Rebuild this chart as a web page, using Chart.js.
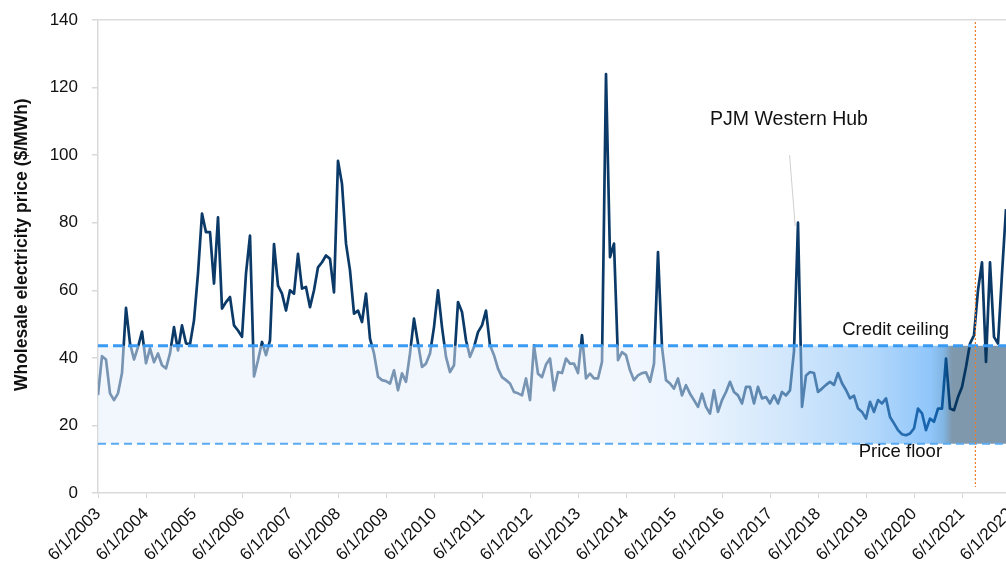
<!DOCTYPE html>
<html><head><meta charset="utf-8">
<script src="https://cdn.jsdelivr.net/npm/chart.js@4.4.1/dist/chart.umd.min.js"></script>
<style>
html,body{margin:0;padding:0;background:#fff;overflow:hidden}
#wrap{width:1006px;height:565px;overflow:hidden;position:relative}
canvas{display:block}
</style>
</head><body><div id="wrap"><canvas id="c" width="1030" height="565"></canvas></div>
<script>
// Year tick labels (one every 12 months, month index 0 = 6/1/2003)
const TICK_LABELS = ['6/1/2003','6/1/2004','6/1/2005','6/1/2006','6/1/2007','6/1/2008','6/1/2009','6/1/2010','6/1/2011','6/1/2012','6/1/2013','6/1/2014','6/1/2015','6/1/2016','6/1/2017','6/1/2018','6/1/2019','6/1/2020','6/1/2021','6/1/2022'];

// Monthly PJM Western Hub price ($/MWh), starting June 2003
const PRICES = [
 29,40.5,39.5,29.5,27.5,29.5,35.5,54.8,44.3,39.5,43.2,47.8,
 38.4,42.8,38.7,41.3,37.8,36.9,41.3,49.1,42.2,49.6,44.3,44,
 51.1,65,82.7,77.2,77.2,62,81.6,54.6,56.5,58,49.6,48.1,
 46.2,65,76.2,34.5,39.3,44.7,40.8,45.2,73.7,61.4,59,54,
 60,59,70.8,60.5,61,55,60,66.8,68.3,70.3,69.3,59.4,
 98.3,91.5,73.8,65.9,53.1,54,50.6,59,45.7,41.3,34.4,33.4,
 33.1,32.4,36.3,30.4,35.4,32.9,41.3,51.6,44.3,37.3,38.3,41.3,
 49.1,60,49.1,40.3,35.8,37.8,56.5,53.6,45.2,40.3,43.2,47.6,
 49.6,54,43.7,40.8,36.8,34.3,33.4,32.4,29.9,29.5,28.9,33.9,
 27.5,43.7,35.3,34.3,38,39.8,30.4,35.8,35.5,39.8,38.3,38.3,
 35.5,46.7,33.9,35.3,33.9,33.9,38.8,124,69.8,73.8,39.3,41.7,
 40.8,36.3,33.4,34.8,35.5,35.7,32.9,38.3,71.3,43.2,33.4,32.4,
 30.9,33.9,28.9,31.9,29.4,27.5,25.5,29.4,25.5,23.5,30.4,24,
 27.5,29.9,32.9,29.9,28.9,26.5,31.4,31.4,26.5,31.4,28,28.4,
 26.5,28.9,26.5,29.9,28.9,30.4,42,80,25.5,34.8,35.8,35.5,
 29.9,30.9,32,32.9,32,35.5,32.5,30.5,28,28.8,25,24,
 22,27,24,27.5,26.5,28,22.5,20.6,18.6,17.4,17.1,17.6,
 19.1,25,23.6,18.6,22,21.1,25,25,39.8,25,24.5,28.4,
 31.4,37.3,44.2,46.7,60,68.3,38.8,68.3,46.2,44.2,64.9,84
];

const CEILING = 43.6;     // credit ceiling ($/MWh)
const FLOOR = 14.6;       // price floor ($/MWh)
const MARKER_MONTH = 219.35; // orange dotted reference date
const LEADER_X = [172.9, 174.3];
const LEADER_Y = [100, 79];
const X_MAX = 230;
const Y_TITLE = 'Wholesale electricity price ($/MWh)';

const priceData = PRICES.map((v, i) => ({x: i, y: v}));

function bandFill(context) {
  const chart = context.chart;
  const {ctx, chartArea, scales} = chart;
  if (!chartArea) return 'rgba(228,238,253,0.5)';
  const xs = scales.x;
  const l = chartArea.left, r = chartArea.right, w = r - l;
  const g = ctx.createLinearGradient(l, 0, r, 0);
  const s = m => Math.min(1, Math.max(0, (xs.getPixelForValue(m) - l) / w));
  g.addColorStop(0, 'rgba(229,239,253,0.5)');
  g.addColorStop(s(133), 'rgba(229,239,253,0.5)');
  g.addColorStop(s(150), 'rgba(212,231,252,0.5)');
  g.addColorStop(s(172), 'rgba(165,207,248,0.5)');
  g.addColorStop(s(192), 'rgba(110,180,246,0.5)');
  g.addColorStop(s(208), 'rgba(35,142,246,0.5)');
  g.addColorStop(s(211.5), 'rgba(12,112,200,0.52)');
  g.addColorStop(s(213.5), 'rgba(0,50,90,0.5)');
  g.addColorStop(1, 'rgba(0,46,84,0.5)');
  return g;
}

const textPlugin = {
  id: 'texts',
  afterDraw(chart) {
    const {ctx, scales: {x, y}} = chart;
    ctx.save();
    ctx.fillStyle = '#111';
    ctx.textAlign = 'center';
    ctx.textBaseline = 'alphabetic';
    ctx.font = '19.5px "Liberation Sans", Arial, sans-serif';
    ctx.fillText('PJM Western Hub', x.getPixelForValue(172.75), y.getPixelForValue(108.8));
    ctx.font = '18.5px "Liberation Sans", Arial, sans-serif';
    ctx.fillText('Credit ceiling', x.getPixelForValue(199.4), y.getPixelForValue(46.9));
    ctx.fillText('Price floor', x.getPixelForValue(200.6), y.getPixelForValue(10.8));
    // y-axis title
    ctx.translate(22.5, y.getPixelForValue(73.5));
    ctx.rotate(-Math.PI / 2);
    ctx.textBaseline = 'middle';
    ctx.font = 'bold 17.5px "Liberation Sans", Arial, sans-serif';
    ctx.fillText(Y_TITLE, 0, 0);
    ctx.restore();
  }
};

new Chart(document.getElementById('c'), {
  type: 'line',
  data: {
    datasets: [
      {data: priceData, borderColor: '#0b3a68', borderWidth: 2.7, pointRadius: 0, tension: 0, borderJoinStyle: 'round', order: 5},
      {data: [{x: 0, y: CEILING}, {x: X_MAX, y: CEILING}], borderColor: '#3a9bf4', borderWidth: 3, borderDash: [10, 5], pointRadius: 0, fill: '+1', backgroundColor: bandFill, order: 1},
      {data: [{x: 0, y: FLOOR}, {x: X_MAX, y: FLOOR}], borderColor: '#5aaaf2', borderWidth: 2, borderDash: [8, 5], pointRadius: 0, fill: false, order: 0},
      {data: [{x: MARKER_MONTH, y: 139.4}, {x: MARKER_MONTH, y: 1.8}], borderColor: '#ea7d2e', borderWidth: 1.2, borderDash: [2, 2], pointRadius: 0, fill: false, order: -1},
      {data: LEADER_X.map((v, i) => ({x: v, y: LEADER_Y[i]})), borderColor: '#cfcfcf', borderWidth: 1, pointRadius: 0, fill: false, order: 6}
    ]
  },
  options: {
    animation: false,
    responsive: false,
    devicePixelRatio: 1,
    layout: {padding: {left: 0, right: 12, top: 20, bottom: 0}},
    plugins: {legend: {display: false}, tooltip: {enabled: false}},
    scales: {
      x: {
        type: 'linear', min: 0, max: X_MAX,
        afterBuildTicks: s => { s.ticks = TICK_LABELS.map((_, i) => ({value: i * 12})); },
        afterFit: s => { s.height = 72; s.paddingLeft = 0; s.paddingRight = 0; },
        ticks: {autoSkip: false, maxRotation: 45, minRotation: 45, padding: 6,
          font: {family: 'Liberation Sans', size: 17}, color: '#111',
          callback: v => TICK_LABELS[Math.round(v / 12)]},
        grid: {drawOnChartArea: false, tickLength: 5, tickColor: '#d9d9d9'},
        border: {color: '#d9d9d9', width: 1.5}
      },
      y: {
        min: 0, max: 140,
        afterFit: s => { s.width = 98; s.paddingTop = 0; s.paddingBottom = 0; },
        ticks: {stepSize: 20, padding: 14, font: {family: 'Liberation Sans', size: 17}, color: '#111'},
        grid: {color: c => (c.tick && c.tick.value === 140) ? '#dcdcdc' : 'rgba(0,0,0,0)', tickColor: '#d9d9d9', tickLength: 6, lineWidth: 1.5},
        border: {color: '#d9d9d9', width: 1.5},
        title: {display: false}
      }
    }
  },
  plugins: [textPlugin]
});
</script>
</body></html>
